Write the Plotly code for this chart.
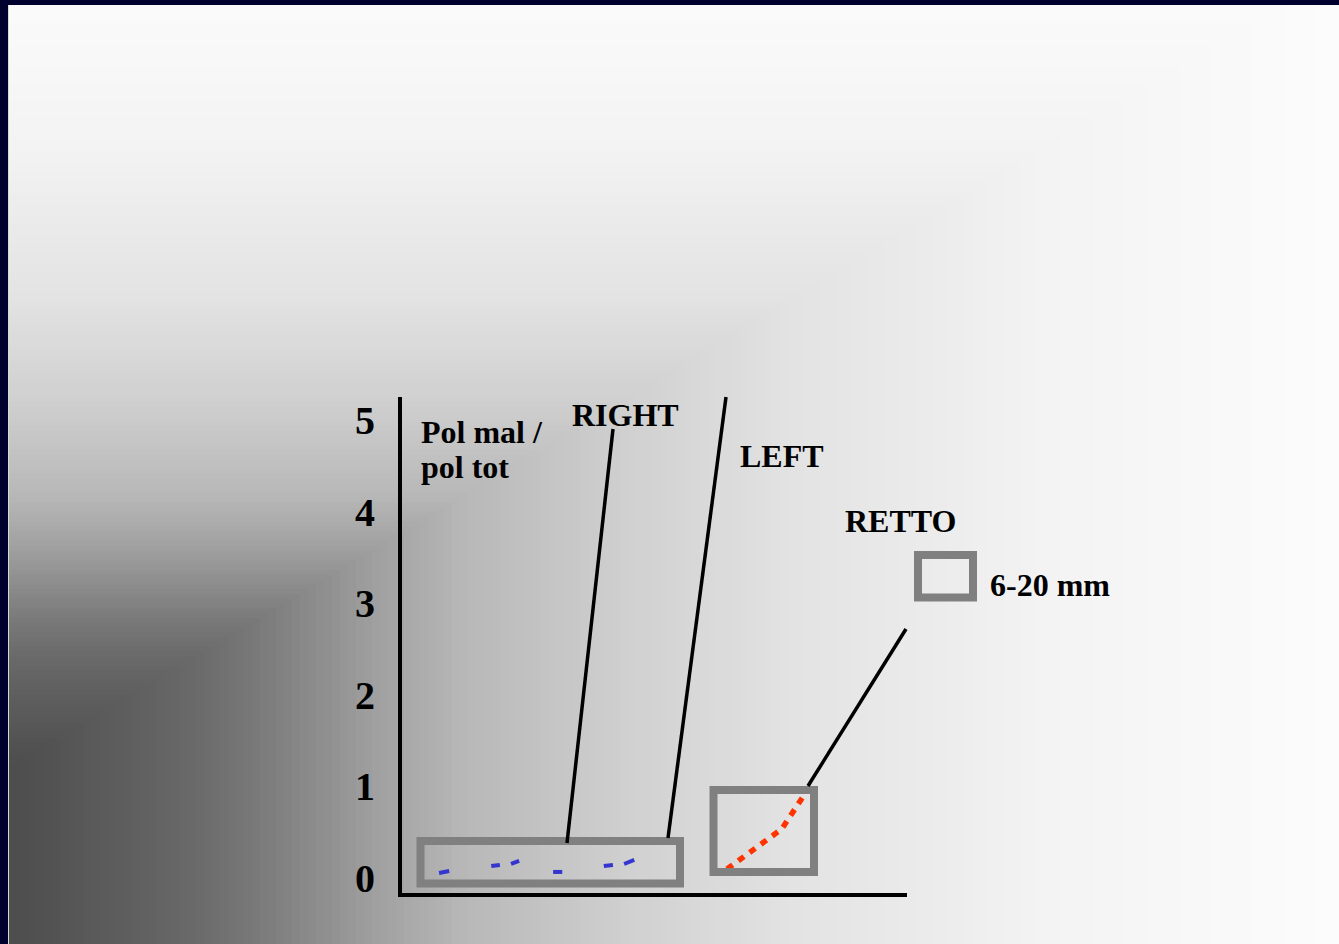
import plotly.graph_objects as go
import numpy as np

# ---------------- data ----------------
y_ticks = [0, 1, 2, 3, 4, 5]
y_ticklabels = ["0", "1", "2", "3", "4", "5"]

# blue (RIGHT / LEFT) short dash segments, None separates segments
blue_x = [0.77, 0.97, None, 1.80, 1.97, None, 2.19, 2.35, None, 3.02, 3.20, None, 4.02, 4.20, None, 4.42, 4.62]
blue_y = [0.055, 0.076, None, 0.131, 0.142, None, 0.153, 0.186, None, 0.066, 0.066, None, 0.131, 0.142, None, 0.153, 0.197]

# red (RETTO) dotted line
red_x = [6.45, 7.53, 8.01]
red_y = [0.098, 0.535, 0.939]

# labels
labels = ["Pol mal /", "pol tot", "RIGHT", "LEFT", "RETTO", "6-20 mm"]

# ---------------- layout geometry ----------------
W, H = 1339, 944
L, R, T, B = 402, 432, 397, 51
PW, PH = W - L - R, H - T - B
X_RANGE = [(L - 400) / 50.7, (W - R - 400) / 50.7]
Y_RANGE = [(878 - (H - B)) / 91.6, (878 - T) / 91.6]


def xp(px):
    return (px - L) / PW


def yp(py):
    return (H - B - py) / PH


shapes = []

# background gradient (rectangular, from bottom-left corner)
stops_w = [0, 40, 100, 150, 200, 250, 300, 380, 465, 630, 800, 1050, 1200, 1340]
stops_c = [77, 80, 90, 97, 106, 118, 134, 160, 183, 208, 227, 243, 248, 252]
for w in range(1340, 0, -8):
    h = min(960, 170 + 0.6 * w)
    g = int(round(np.interp(w, stops_w, stops_c)))
    col = f"rgb({g},{g},{g})"
    shapes.append(dict(type="rect", xref="paper", yref="paper", layer="below",
                       x0=xp(-2), x1=xp(w), y0=yp(H + 2), y1=yp(H - h),
                       line=dict(width=0), fillcolor=col))

# navy frame
shapes.append(dict(type="rect", xref="paper", yref="paper", layer="above",
                   x0=xp(-2), x1=xp(8), y0=yp(H + 2), y1=yp(-2),
                   line=dict(width=0), fillcolor="#00002f"))
shapes.append(dict(type="rect", xref="paper", yref="paper", layer="above",
                   x0=xp(-2), x1=xp(W + 2), y0=yp(5), y1=yp(-2),
                   line=dict(width=0), fillcolor="#00002f"))
shapes.append(dict(type="line", xref="paper", yref="paper", layer="above",
                   x0=xp(8.5), x1=xp(8.5), y0=yp(5), y1=yp(H + 2),
                   line=dict(width=1, color="#d8d8d8")))

# gray boxes
gray = "#808080"
for (x0, y0, x1, y1) in [(420.5, 841, 680, 883.5), (713.5, 790, 814, 872), (918, 555, 973, 597.5)]:
    shapes.append(dict(type="rect", xref="paper", yref="paper", layer="above",
                       x0=xp(x0), x1=xp(x1), y0=yp(y1), y1=yp(y0),
                       line=dict(width=8, color=gray), fillcolor="rgba(0,0,0,0)"))

# leader lines
for (x0, y0, x1, y1) in [(613, 429, 567, 843), (726, 397, 668, 838), (906, 629, 808, 786)]:
    shapes.append(dict(type="line", xref="paper", yref="paper", layer="above",
                       x0=xp(x0), x1=xp(x1), y0=yp(y0), y1=yp(y1),
                       line=dict(width=3.5, color="black")))

# annotations
font = dict(family="Liberation Serif", size=32, color="black", weight="bold")
ann_pos = [(419, 432), (419, 467), (570, 415), (738, 456), (843, 521), (988, 585)]
annotations = []
for txt, (ax, ay) in zip(labels, ann_pos):
    annotations.append(dict(text=txt, xref="paper", yref="paper", x=xp(ax), y=yp(ay),
                            xanchor="left", yanchor="middle", showarrow=False, font=font))

fig = go.Figure()
fig.add_trace(go.Scatter(x=blue_x, y=blue_y, mode="lines", connectgaps=False,
                         line=dict(color="#3535d0", width=4), showlegend=False, hoverinfo="skip"))
fig.add_trace(go.Scatter(x=red_x, y=red_y, mode="lines",
                         line=dict(color="#ff3300", width=5.5, dash="7px,7px"),
                         showlegend=False, hoverinfo="skip"))

fig.update_layout(
    width=W, height=H,
    margin=dict(l=L, r=R, t=T, b=B, pad=0),
    paper_bgcolor="#fcfcfc",
    plot_bgcolor="rgba(0,0,0,0)",
    shapes=shapes,
    annotations=annotations,
    showlegend=False,
    xaxis=dict(range=X_RANGE, showgrid=False, zeroline=False, showticklabels=False,
               ticks="", showline=True, linecolor="black", linewidth=4),
    yaxis=dict(range=Y_RANGE, tickvals=y_ticks, ticktext=y_ticklabels,
               showgrid=False, zeroline=False, ticks="", showline=True,
               linecolor="black", linewidth=4, ticklabelstandoff=15,
               tickfont=dict(family="Liberation Serif", size=40, color="black", weight="bold")),
)

fig.write_html("out.html", config={"displayModeBar": False},
               post_script="document.body.style.margin='0';document.body.style.overflow='hidden';")
